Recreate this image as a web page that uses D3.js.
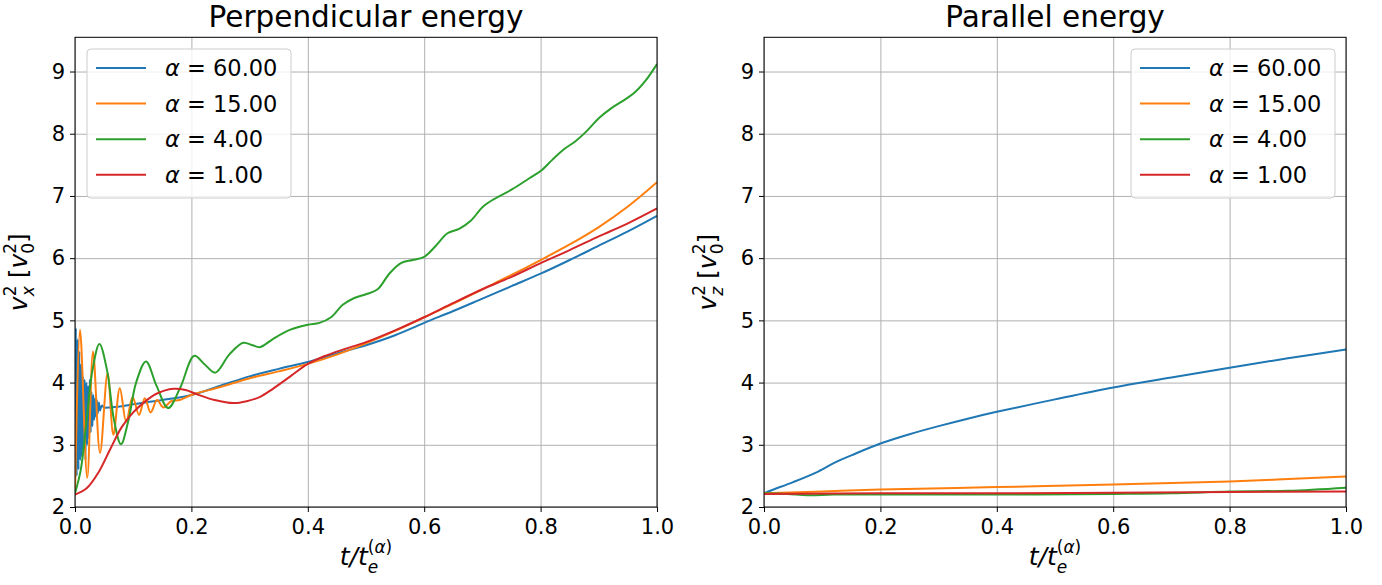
<!DOCTYPE html>
<html><head><meta charset="utf-8">
<script src="https://cdn.jsdelivr.net/npm/d3@7"></script>
<style>
body{margin:0;background:#fff}
svg{display:block}
text{font-family:"DejaVu Sans",sans-serif;fill:#000}
</style>
</head><body>
<svg id="c" width="1382" height="585"></svg>
<script>
// ---------- data ----------
const seriesAlpha = ["60.00", "15.00", "4.00", "1.00"];
const seriesColors = ["#1f77b4", "#ff7f0e", "#2ca02c", "#d62728"];
const xTicks = [0, 0.2, 0.4, 0.6, 0.8, 1.0];
const yTicks = [2, 3, 4, 5, 6, 7, 8, 9];
const panelTitles = ["Perpendicular energy", "Parallel energy"];

const perp60 = [[0,2.2],[0.0015,4.88],[0.003,2.5],[0.0045,4.7],[0.006,2.6],[0.0075,4.5],[0.009,2.75],[0.0105,4.3],[0.012,2.8],[0.0135,4.1],[0.015,2.9],[0.0165,4.05],[0.018,2.75],[0.0195,4.0],[0.021,3.0],[0.0225,3.95],[0.024,3.1],[0.0255,4.05],[0.027,3.2],[0.0285,3.85],[0.03,3.3],[0.0315,3.8],[0.033,3.4],[0.0345,3.75],[0.036,3.45],[0.0375,3.72],[0.039,3.5],[0.041,3.68],[0.043,3.55],[0.046,3.63],[0.05,3.6],[0.06,3.6],[0.08,3.62],[0.1,3.65],[0.12,3.68],[0.15,3.72],[0.2,3.8],[0.25,3.95],[0.3,4.1],[0.35,4.22],[0.4,4.33],[0.45,4.47],[0.5,4.6],[0.55,4.76],[0.6,4.96],[0.65,5.15],[0.7,5.35],[0.75,5.55],[0.8,5.75],[0.85,5.97],[0.9,6.2],[0.95,6.43],[1.0,6.68]];
const perp15 = [[0,2.2],[0.0086,4.85],[0.021,2.47],[0.031,4.5],[0.043,2.87],[0.056,4.15],[0.066,3.16],[0.077,3.91],[0.088,3.37],[0.099,3.77],[0.11,3.48],[0.12,3.75],[0.13,3.52],[0.141,3.72],[0.152,3.6],[0.165,3.7],[0.18,3.72],[0.2,3.8],[0.25,3.93],[0.3,4.07],[0.35,4.18],[0.4,4.3],[0.45,4.45],[0.5,4.63],[0.55,4.83],[0.6,5.05],[0.65,5.27],[0.7,5.5],[0.75,5.73],[0.8,5.97],[0.85,6.22],[0.9,6.5],[0.95,6.83],[1.0,7.22]];
const perp4 = [[0,2.22],[0.01,2.6],[0.02,3.4],[0.03,4.2],[0.042,4.62],[0.055,4.2],[0.067,3.4],[0.079,3.01],[0.092,3.4],[0.105,4.0],[0.122,4.34],[0.14,3.95],[0.16,3.59],[0.18,3.9],[0.205,4.43],[0.222,4.3],[0.241,4.16],[0.265,4.45],[0.289,4.64],[0.305,4.6],[0.318,4.57],[0.34,4.7],[0.37,4.85],[0.4,4.93],[0.42,4.96],[0.44,5.05],[0.46,5.25],[0.48,5.36],[0.5,5.42],[0.52,5.5],[0.54,5.75],[0.56,5.92],[0.58,5.97],[0.6,6.02],[0.62,6.2],[0.64,6.4],[0.66,6.47],[0.68,6.6],[0.7,6.82],[0.72,6.95],[0.75,7.1],[0.78,7.28],[0.8,7.4],[0.82,7.58],[0.84,7.75],[0.86,7.88],[0.88,8.05],[0.9,8.25],[0.92,8.4],[0.94,8.52],[0.96,8.65],[0.98,8.85],[1.0,9.12]];
const perp1 = [[0,2.2],[0.02,2.3],[0.04,2.55],[0.06,2.92],[0.08,3.28],[0.1,3.52],[0.117,3.67],[0.14,3.82],[0.169,3.9],[0.19,3.88],[0.21,3.81],[0.24,3.72],[0.272,3.67],[0.295,3.7],[0.318,3.77],[0.34,3.9],[0.37,4.1],[0.4,4.3],[0.43,4.43],[0.46,4.53],[0.5,4.65],[0.55,4.84],[0.6,5.05],[0.65,5.28],[0.7,5.5],[0.75,5.7],[0.8,5.92],[0.85,6.13],[0.9,6.35],[0.95,6.56],[1.0,6.8]];

const par60 = [[0,2.22],[0.013,2.27],[0.05,2.4],[0.093,2.57],[0.125,2.73],[0.15,2.83],[0.2,3.02],[0.25,3.17],[0.3,3.3],[0.35,3.42],[0.4,3.53],[0.5,3.73],[0.6,3.92],[0.7,4.08],[0.8,4.24],[0.9,4.39],[1.0,4.53]];
const par15 = [[0,2.22],[0.1,2.25],[0.2,2.28],[0.4,2.32],[0.6,2.36],[0.8,2.41],[1.0,2.49]];
const par4 = [[0,2.22],[0.04,2.21],[0.075,2.19],[0.12,2.2],[0.2,2.2],[0.4,2.2],[0.6,2.21],[0.7,2.22],[0.8,2.25],[0.9,2.26],[1.0,2.31]];
const par1 = [[0,2.21],[0.2,2.22],[0.4,2.22],[0.6,2.23],[0.8,2.24],[1.0,2.25]];

const panels = [
  {title: panelTitles[0], sub: "x", series: [perp60, perp15, perp4, perp1], legendSide: "left"},
  {title: panelTitles[1], sub: "z", series: [par60, par15, par4, par1], legendSide: "right"}
];

// ---------- layout ----------
const svg = d3.select("#c");
const axTop = 37.3, axBot = 507, axW = 582;
const axLefts = [75, 764];

panels.forEach((p, pi) => {
  const L = axLefts[pi];
  const x = d3.scaleLinear().domain([0, 1]).range([L, L + axW]);
  const y = d3.scaleLinear().domain([2, 9.55]).range([axBot, axTop]);
  const g = svg.append("g");

  // grid
  g.append("g").attr("transform", `translate(0,${axBot})`)
    .call(d3.axisBottom(x).tickValues(xTicks).tickSize(-(axBot - axTop)).tickFormat(""))
    .call(s => { s.select(".domain").remove(); s.selectAll("line").attr("stroke", "#b0b0b0").attr("stroke-width", 1); });
  g.append("g").attr("transform", `translate(${L},0)`)
    .call(d3.axisLeft(y).tickValues(yTicks).tickSize(-axW).tickFormat(""))
    .call(s => { s.select(".domain").remove(); s.selectAll("line").attr("stroke", "#b0b0b0").attr("stroke-width", 1); });

  // lines
  const clipId = "clip" + pi;
  svg.append("defs").append("clipPath").attr("id", clipId)
    .append("rect").attr("x", L).attr("y", axTop).attr("width", axW).attr("height", axBot - axTop);
  const line = d3.line().x(d => x(d[0])).y(d => y(d[1])).curve(d3.curveCatmullRom.alpha(0.5));
  const lg = g.append("g").attr("clip-path", `url(#${clipId})`);
  p.series.forEach((s, si) => {
    lg.append("path").datum(s).attr("d", line).attr("fill", "none")
      .attr("stroke", seriesColors[si]).attr("stroke-width", 2).attr("stroke-linejoin", "round");
  });

  // axes
  g.append("g").attr("transform", `translate(0,${axBot})`)
    .call(d3.axisBottom(x).tickValues(xTicks).tickSize(5).tickPadding(7).tickFormat(d3.format(".1f")))
    .call(s => { s.select(".domain").remove(); s.selectAll("text").attr("font-size", 21).attr("font-family", "DejaVu Sans"); s.selectAll("line").attr("stroke", "#000"); });
  g.append("g").attr("transform", `translate(${L},0)`)
    .call(d3.axisLeft(y).tickValues(yTicks).tickSize(5).tickPadding(5).tickFormat(d3.format("d")))
    .call(s => { s.select(".domain").remove(); s.selectAll("text").attr("font-size", 21).attr("font-family", "DejaVu Sans"); s.selectAll("line").attr("stroke", "#000"); });

  g.append("rect").attr("x", L).attr("y", axTop).attr("width", axW).attr("height", axBot - axTop)
    .attr("fill", "none").attr("stroke", "#000").attr("stroke-width", 1);

  // title
  g.append("text").attr("x", L + axW / 2).attr("y", 27).attr("text-anchor", "middle")
    .attr("font-size", 29.5).text(p.title);

  // x label
  const xl = g.append("text").attr("x", L + axW / 2).attr("y", 565).attr("text-anchor", "middle").attr("font-size", 25);
  xl.append("tspan").attr("font-style", "italic").text("t/t");
  xl.append("tspan").attr("font-size", 17).attr("font-style", "italic").attr("dy", 8).text("e");
  xl.append("tspan").attr("font-size", 17).attr("dx", -10.5).attr("dy", -20).text("(");
  xl.append("tspan").attr("font-size", 17).attr("font-style", "italic").text("α");
  xl.append("tspan").attr("font-size", 17).text(")");

  // y label
  const yl = g.append("text").attr("transform", `translate(${L - 48},${(axTop + axBot) / 2}) rotate(-90)`)
    .attr("text-anchor", "middle").attr("font-size", 25);
  yl.append("tspan").attr("font-style", "italic").text("v");
  yl.append("tspan").attr("font-size", 17).attr("dy", -11).text("2");
  yl.append("tspan").attr("font-size", 17).attr("font-style", "italic").attr("dx", -10.8).attr("dy", 18).text(p.sub);
  yl.append("tspan").attr("dy", -7).text(" [");
  yl.append("tspan").attr("font-style", "italic").text("v");
  yl.append("tspan").attr("font-size", 17).attr("dy", -11).text("2");
  yl.append("tspan").attr("font-size", 17).attr("dx", -10.8).attr("dy", 18).text("0");
  yl.append("tspan").attr("dy", -7).text("]");

  // legend
  const bw = 204, bh = 149;
  const bx = p.legendSide === "left" ? L + 12 : L + axW - 11 - bw;
  const by = 49;
  const leg = g.append("g");
  leg.append("rect").attr("x", bx).attr("y", by).attr("width", bw).attr("height", bh)
    .attr("rx", 4).attr("fill", "#fff").attr("fill-opacity", 0.8).attr("stroke", "#cccccc").attr("stroke-width", 1);
  seriesAlpha.forEach((a, i) => {
    const cy = by + 19 + i * 35.6;
    leg.append("line").attr("x1", bx + 9).attr("x2", bx + 59).attr("y1", cy).attr("y2", cy)
      .attr("stroke", seriesColors[i]).attr("stroke-width", 2);
    const t = leg.append("text").attr("x", bx + 78).attr("y", cy + 8).attr("font-size", 22.5);
    t.append("tspan").attr("font-style", "italic").text("α");
    t.append("tspan").text(" = " + a);
  });
});
</script>
</body></html>
